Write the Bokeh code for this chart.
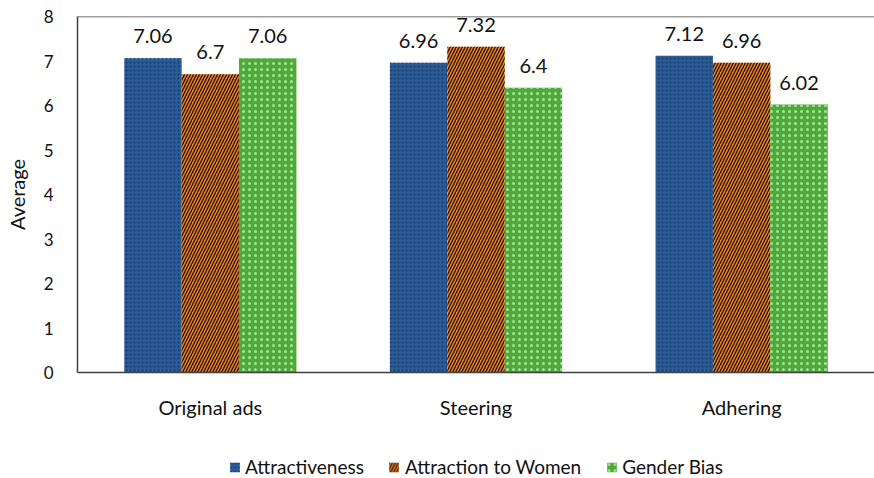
from bokeh.plotting import figure
from bokeh.models import (ColumnDataSource, FactorRange, Range1d, Legend, LegendItem,
                          FixedTicker, LabelSet, Span)
from bokeh.layouts import column
from bokeh.transform import dodge
from bokeh.core.properties import value
from bokeh.embed import file_html
from bokeh.resources import INLINE

categories = ["Original ads", "Steering", "Adhering"]
attractiveness = [7.06, 6.96, 7.12]
attraction_to_women = [6.7, 7.32, 6.96]
gender_bias = [7.06, 6.4, 6.02]
series_names = ["Attractiveness", "Attraction to Women", "Gender Bias"]
y_ticks = [0, 1, 2, 3, 4, 5, 6, 7, 8]

FONT = "Lato"
TXT = "#111111"

src = ColumnDataSource(dict(
    cat=categories,
    a=attractiveness,
    w=attraction_to_women,
    g=gender_bias,
    a_lbl=[f"{v:g}" for v in attractiveness],
    w_lbl=[f"{v:g}" for v in attraction_to_women],
    g_lbl=[f"{v:g}" for v in gender_bias],
))

p = figure(width=874, height=440, x_range=FactorRange(*categories, range_padding=0),
           y_range=Range1d(0, 8), output_backend="svg", toolbar_location=None,
           min_border_left=77, min_border_right=0, min_border_top=16, min_border_bottom=68)
p.outline_line_color = None
p.xgrid.grid_line_color = None
p.ygrid.grid_line_color = None

bw = 0.216
specs = [
    ("a", "a_lbl", -bw, "#2B5C97", "dot", "#163A66", 4, 1.5),
    ("w", "w_lbl", 0.0, "#F08424", "right_diagonal_line", "#1E1208", 6, 1.3),
    ("g", "g_lbl", bw, "#4EA83A", "dot", "#A8E29A", 6, 1.5),
]
styles = []
for col, lcol, off, color, hp, hc, hs, hwt in specs:
    style = dict(fill_color=color, line_color=None, hatch_pattern=hp, hatch_color=hc,
                 hatch_scale=hs, hatch_weight=hwt)
    styles.append((col, style))
    p.vbar(x=dodge("cat", off, range=p.x_range), top=col, width=bw, source=src, **style)
    lbl = LabelSet(x=dodge("cat", off, range=p.x_range), y=col, text=lcol, source=src,
                   text_align="center", text_baseline="bottom", y_offset=15,
                   text_font=value(FONT), text_font_size="20px", text_color=TXT)
    p.add_layout(lbl)

# top frame line
p.add_layout(Span(location=8, dimension="width", line_color="#404040", line_width=1.5))

# axes styling
p.yaxis.ticker = FixedTicker(ticks=y_ticks)
p.yaxis.axis_label = "Average"
p.yaxis.axis_label_text_font = FONT
p.yaxis.axis_label_text_font_size = "20px"
p.yaxis.axis_label_text_font_style = "normal"
p.yaxis.axis_label_text_color = TXT
p.yaxis.axis_label_standoff = 12
p.yaxis.major_label_text_font = FONT
p.yaxis.major_label_text_font_size = "17px"
p.yaxis.major_label_text_color = TXT
p.yaxis.major_label_standoff = 18
p.yaxis.major_tick_line_color = None
p.yaxis.minor_tick_line_color = None
p.yaxis.axis_line_color = "#404040"
p.yaxis.axis_line_width = 1.5

p.xaxis.major_label_text_font = FONT
p.xaxis.major_label_text_font_size = "20px"
p.xaxis.major_label_text_color = TXT
p.xaxis.major_label_standoff = 16
p.xaxis.major_tick_line_color = None
p.xaxis.axis_line_color = "#404040"
p.xaxis.axis_line_width = 1.5

# legend strip (its bars lie outside the strip's view; only the legend shows)
lf = figure(width=874, height=38, x_range=Range1d(0, 1), y_range=Range1d(0, 1),
            output_backend="svg", toolbar_location=None, x_axis_location=None,
            y_axis_location=None, min_border=0)
lf.outline_line_color = None
lf.xgrid.grid_line_color = None
lf.ygrid.grid_line_color = None
proxies = [lf.vbar(x=col, top=col, width=bw, source=src, **s) for col, s in styles]
legend = Legend(items=[LegendItem(label=n, renderers=[r]) for n, r in zip(series_names, proxies)],
                orientation="horizontal", location="bottom_center",
                label_text_font=FONT, label_text_font_size="19px", label_text_color=TXT,
                glyph_width=12, glyph_height=12, label_standoff=5, spacing=24,
                border_line_color=None, background_fill_alpha=0, padding=0, margin=0)
lf.add_layout(legend)

open("out.html", "w").write(file_html(column(p, lf, spacing=0), INLINE))
